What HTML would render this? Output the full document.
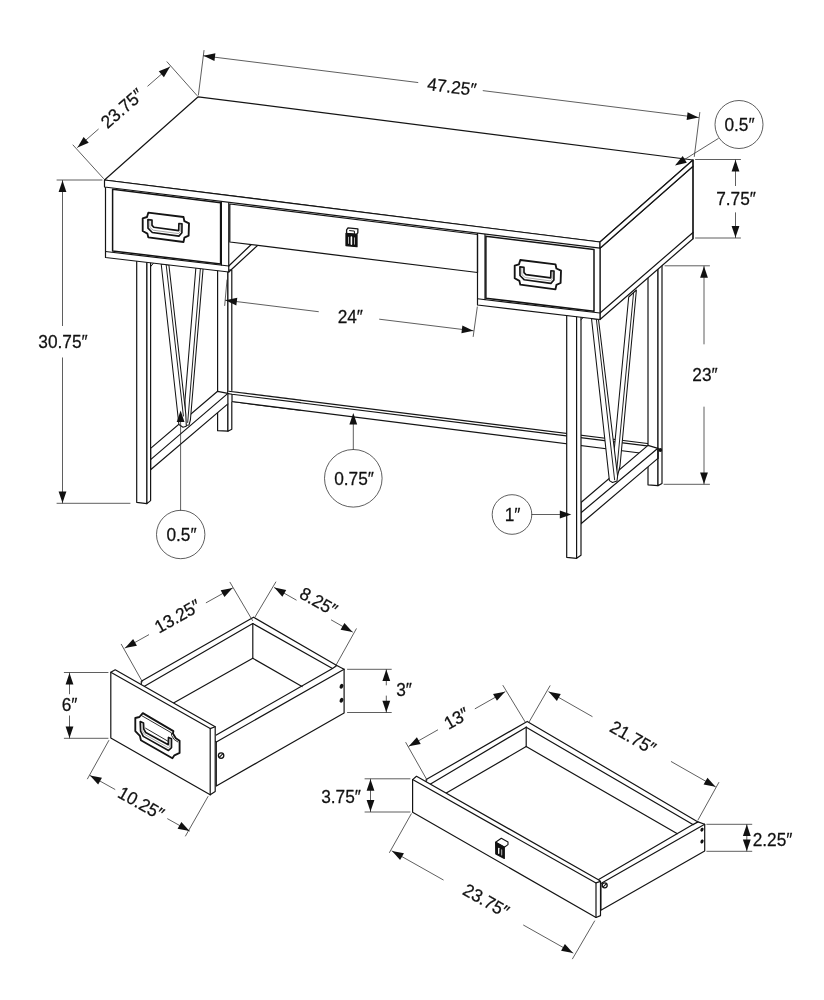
<!DOCTYPE html>
<html lang="en">
<head>
<meta charset="utf-8">
<title>Desk dimensions</title>
<style>
html,body{margin:0;padding:0;background:#fff;}
body{width:824px;height:1000px;overflow:hidden;}
svg{display:block;will-change:transform;}
svg text{font-family:"Liberation Sans",sans-serif;fill:#111;stroke:#111;stroke-width:0.25px;}
</style>
</head>
<body>
<svg width="824" height="1000" viewBox="0 0 824 1000" stroke-linejoin="round" stroke-linecap="round">
<rect x="0" y="0" width="824" height="1000" fill="#fff"/>
<polygon points="228.75,391.25 647.5,443.5 655,446.8 640,453 232,401.5 232,394.25" fill="#fff" stroke="#141414" stroke-width="1.2"/>
<polyline points="232,394.25 655,446.8" fill="none" stroke="#141414" stroke-width="1.2"/>
<polygon points="217.6,270 227.9,270 227.9,431.2 217.6,430.7" fill="#fff" stroke="#141414" stroke-width="1.2"/>
<polygon points="227.9,270 231.8,270 231.8,429.3 227.9,431.2" fill="#fff" stroke="#141414" stroke-width="1.2"/>
<polygon points="648,276 658,267 658,485.6 648,484.8" fill="#fff" stroke="#141414" stroke-width="1.2"/>
<polygon points="658,267 662,264 662,483.5 658,485.6" fill="#fff" stroke="#141414" stroke-width="1.2"/>
<polygon points="228.75,391.25 232,390.7 300,399.3 300,409.9 232,401.5 227.9,403.9 227.9,393.4" fill="#fff" stroke="none" stroke-width="0"/>
<polyline points="228.75,391.25 300,400.14" fill="none" stroke="#141414" stroke-width="1.2"/>
<polyline points="228.2,393.6 232,394.25 300,402.7" fill="none" stroke="#141414" stroke-width="1.2"/>
<polyline points="232,394.25 232,401.5 300,410.08" fill="none" stroke="#141414" stroke-width="1.2"/>
<polygon points="150.6,448.4 217.6,391.3 227.9,393.4 227.9,403.9 150.6,469.7" fill="#fff" stroke="#141414" stroke-width="1.2"/>
<polyline points="150.6,459.6 227.9,393.4" fill="none" stroke="#141414" stroke-width="1.2"/>
<polygon points="581,502.5 648,445.4 657.9,448.3 657.9,458.4 581,523.8" fill="#fff" stroke="#141414" stroke-width="1.2"/>
<polyline points="581,512.7 657.9,448.3" fill="none" stroke="#141414" stroke-width="1.2"/>
<polyline points="657.9,448.3 657.9,458.4" fill="none" stroke="#141414" stroke-width="1.2"/>
<circle cx="660.3" cy="450" r="1.9" fill="#111"/>
<polygon points="195.9,267.5 203.1,268.5 190.4,420 189,425 185.3,425.5 185,400" fill="#fff" stroke="#141414" stroke-width="1.05"/>
<polyline points="200.4,268.5 187.7,422.5" fill="none" stroke="#141414" stroke-width="0.95"/>
<polygon points="161.2,264 168.9,265 185.8,414 186.3,426.3 183,427.2 178.9,424.5" fill="#fff" stroke="#141414" stroke-width="1.05"/>
<polyline points="166.2,265 183.4,416" fill="none" stroke="#141414" stroke-width="0.95"/>
<polygon points="628.7,297 636.4,290 620,466 617,478 614,452" fill="#fff" stroke="#141414" stroke-width="1.05"/>
<polyline points="633.5,293.5 616.8,470" fill="none" stroke="#141414" stroke-width="0.95"/>
<polygon points="591.5,318.5 598.5,319.5 617.6,476 617,481 612.5,482.5 609.4,480.6" fill="#fff" stroke="#141414" stroke-width="1.05"/>
<polyline points="596.4,319.3 614.6,479.8" fill="none" stroke="#141414" stroke-width="0.95"/>
<polygon points="136.7,260 146.9,260 146.9,503.6 136.7,502.3" fill="#fff" stroke="#141414" stroke-width="1.2"/>
<polygon points="146.9,260 150.6,260 150.6,500.6 146.9,503.6" fill="#fff" stroke="#141414" stroke-width="1.2"/>
<polygon points="566.7,315 576.6,315 576.6,558.3 566.7,557.3" fill="#fff" stroke="#141414" stroke-width="1.2"/>
<polygon points="576.6,315 581,315 581,555.2 576.6,558.3" fill="#fff" stroke="#141414" stroke-width="1.2"/>
<polyline points="150.6,266.6 153.4,263.3" fill="none" stroke="#141414" stroke-width="1"/>
<polyline points="581,319.6 583.5,317.3" fill="none" stroke="#141414" stroke-width="1"/>
<polygon points="600,248.2 693,166.2 693,238.75 600,319.5" fill="#fff" stroke="#141414" stroke-width="1.2"/>
<polyline points="600,313 693,232.5" fill="none" stroke="#141414" stroke-width="1.2"/>
<polygon points="104.5,187 600,248.2 600,319.5 477.5,305 477.5,272.5 229,242 228.75,272 105.5,257.5 105.5,187.1" fill="#fff" stroke="none" stroke-width="0"/>
<polyline points="228.75,266 251,244.7" fill="none" stroke="#141414" stroke-width="1.2"/>
<polyline points="228.75,272 257.5,245.5" fill="none" stroke="#141414" stroke-width="1.2"/>
<polyline points="105.5,187.1 105.5,257.5 228.75,272 228.75,202.35" fill="none" stroke="#141414" stroke-width="1.2"/>
<polyline points="105.5,251.5 228.75,266" fill="none" stroke="#141414" stroke-width="1.2"/>
<polyline points="221.4,201.44 221.4,265.1" fill="none" stroke="#141414" stroke-width="1.2"/>
<polygon points="112.6,189.3 220.6,202.7 220.6,263.9 112.6,251" fill="#fff" stroke="#141414" stroke-width="1.5"/>
<polygon points="229.8,204 477.5,234.5 477.5,272.5 229.8,242" fill="#fff" stroke="#141414" stroke-width="1.25"/>
<polyline points="477.5,233.07 477.5,305 600,319.5 600,248.2" fill="none" stroke="#141414" stroke-width="1.2"/>
<polyline points="477.5,298.75 600,313" fill="none" stroke="#141414" stroke-width="1.2"/>
<polyline points="485,234 485,299.6" fill="none" stroke="#141414" stroke-width="1.2"/>
<polygon points="485.9,236.2 594,249.5 594,311.3 485.9,298.2" fill="#fff" stroke="#141414" stroke-width="1.5"/>
<polygon points="104.5,180 198.2,96.8 693,160 600,242" fill="#fff" stroke="#141414" stroke-width="1.2"/>
<polygon points="104.5,180 600,242 600,248.2 104.5,187" fill="#fff" stroke="#141414" stroke-width="1.2"/>
<polygon points="600,242 693,160 693,166.2 600,248.2" fill="#fff" stroke="#141414" stroke-width="1.2"/>
<polyline points="693,160 693,238.75" fill="none" stroke="#141414" stroke-width="1.2"/>
<polygon points="148.3,212.7 183.5,217 184.4,221.2 189,223.4 188.6,235.7 184.4,237.6 183.5,242 148.3,237.4 147.4,233.6 142.7,231 142.7,218.3 147,217" fill="#fff" stroke="#141414" stroke-width="1.85"/>
<polygon points="147.9,219.6 148,228.2 152.3,232.5 178.9,236.1 181.9,232.7 182,223.8 178.9,223.5 178.7,230.6 154,227.3 152,225.3 152,220.1" fill="#fff" stroke="#141414" stroke-width="1.65"/>
<polyline points="149.8,220.2 149.9,227.4 153.2,230.2 178.6,233.6 180.3,231.5 180.4,223.9" fill="none" stroke="#555" stroke-width="0.5"/>
<polygon points="520.3,260 555.5,264.3 556.4,268.5 561,270.7 560.6,283 556.4,284.9 555.5,289.3 520.3,284.7 519.4,280.9 514.7,278.3 514.7,265.6 519,264.3" fill="#fff" stroke="#141414" stroke-width="1.85"/>
<polygon points="519.9,266.9 520,275.5 524.3,279.8 550.9,283.4 553.9,280 554,271.1 550.9,270.8 550.7,277.9 526,274.6 524,272.6 524,267.4" fill="#fff" stroke="#141414" stroke-width="1.65"/>
<polyline points="521.8,267.5 521.9,274.7 525.2,277.5 550.6,280.9 552.3,278.8 552.4,271.2" fill="none" stroke="#555" stroke-width="0.5"/>
<polygon points="346.6,229.8 348,227.9 357.9,228.9 357.8,232.9 356.5,234.3 346.6,233.3" fill="#fff" stroke="#141414" stroke-width="1.3"/>
<polyline points="349.6,230.6 354.4,231.1 354.4,233.6" fill="none" stroke="#141414" stroke-width="1"/>
<polygon points="346,233.5 357,234.6 357,246.7 346,245.5" fill="#111" stroke="#141414" stroke-width="1.3"/>
<polyline points="348.5,237.2 348.5,243.4" fill="none" stroke="#ddd" stroke-width="0.8"/>
<polyline points="351.4,237 351.4,244.2" fill="none" stroke="#fff" stroke-width="1.6"/>
<polyline points="354.5,237.8 354.5,244.2" fill="none" stroke="#ddd" stroke-width="0.8"/>
<polyline points="204,50.5 198.4,95" fill="none" stroke="#2a2a2a" stroke-width="0.75"/>
<polyline points="699.8,112.5 694.3,156.5" fill="none" stroke="#2a2a2a" stroke-width="0.75"/>
<polyline points="203.5,55.8 417.84,82.52" fill="none" stroke="#2a2a2a" stroke-width="0.75"/>
<polyline points="483.17,90.66 698.5,117.5" fill="none" stroke="#2a2a2a" stroke-width="0.75"/>
<polygon points="203.5,55.8 215.39,53.35 214.43,61.09" fill="#111" stroke="none"/>
<polygon points="698.5,117.5 686.61,119.95 687.57,112.21" fill="#111" stroke="none"/>
<text transform="translate(451.2 93) rotate(7) scale(0.96 1)" text-anchor="middle" font-size="18">47.25″</text>
<polyline points="167,61.8 197,95.5" fill="none" stroke="#2a2a2a" stroke-width="0.75"/>
<polyline points="73,145 103.5,178.5" fill="none" stroke="#2a2a2a" stroke-width="0.75"/>
<polyline points="77.5,147.4 98.31,129.24" fill="none" stroke="#2a2a2a" stroke-width="0.75"/>
<polyline points="147.8,86.07 170,66.7" fill="none" stroke="#2a2a2a" stroke-width="0.75"/>
<polygon points="77.5,147.4 83.6,136.9 88.73,142.78" fill="#111" stroke="none"/>
<polygon points="170,66.7 163.9,77.2 158.77,71.32" fill="#111" stroke="none"/>
<text transform="translate(126.2 113) rotate(-41) scale(0.96 1)" text-anchor="middle" font-size="18">23.75″</text>
<polyline points="57,180 102,180" fill="none" stroke="#2a2a2a" stroke-width="0.75"/>
<polyline points="57,503.3 130,503.3" fill="none" stroke="#2a2a2a" stroke-width="0.75"/>
<polyline points="62.5,180.5 62.5,325.62" fill="none" stroke="#2a2a2a" stroke-width="0.75"/>
<polyline points="62.5,357.88 62.5,503" fill="none" stroke="#2a2a2a" stroke-width="0.75"/>
<polygon points="62.5,180.5 66.4,192 58.6,192" fill="#111" stroke="none"/>
<polygon points="62.5,503 58.6,491.5 66.4,491.5" fill="#111" stroke="none"/>
<text transform="translate(63 347.6) scale(0.96 1)" text-anchor="middle" font-size="18">30.75″</text>
<polyline points="695.5,159.5 740.5,159.5" fill="none" stroke="#2a2a2a" stroke-width="0.75"/>
<polyline points="695.5,238 740.5,238" fill="none" stroke="#2a2a2a" stroke-width="0.75"/>
<polyline points="735.5,160 735.5,185.61" fill="none" stroke="#2a2a2a" stroke-width="0.75"/>
<polyline points="735.5,212.77 735.5,237.6" fill="none" stroke="#2a2a2a" stroke-width="0.75"/>
<polygon points="735.5,160 739.4,171.5 731.6,171.5" fill="#111" stroke="none"/>
<polygon points="735.5,237.6 731.6,226.1 739.4,226.1" fill="#111" stroke="none"/>
<text transform="translate(736 205.3) scale(0.96 1)" text-anchor="middle" font-size="18">7.75″</text>
<polyline points="665,265.8 709.5,265.8" fill="none" stroke="#2a2a2a" stroke-width="0.75"/>
<polyline points="664,484.3 709.5,484.3" fill="none" stroke="#2a2a2a" stroke-width="0.75"/>
<polyline points="704,266.2 704,343.92" fill="none" stroke="#2a2a2a" stroke-width="0.75"/>
<polyline points="704,407.05 704,483.9" fill="none" stroke="#2a2a2a" stroke-width="0.75"/>
<polygon points="704,266.2 707.9,277.7 700.1,277.7" fill="#111" stroke="none"/>
<polygon points="704,483.9 700.1,472.4 707.9,472.4" fill="#111" stroke="none"/>
<text transform="translate(705 381.2) scale(0.96 1)" text-anchor="middle" font-size="18">23″</text>
<polyline points="477.3,307 473.2,336.5" fill="none" stroke="#2a2a2a" stroke-width="0.75"/>
<polyline points="227,280 224.7,305.5" fill="none" stroke="#2a2a2a" stroke-width="0.75"/>
<polyline points="225.4,300.2 318.36,311.68" fill="none" stroke="#2a2a2a" stroke-width="0.75"/>
<polyline points="379.59,319.23 473.3,330.8" fill="none" stroke="#2a2a2a" stroke-width="0.75"/>
<polygon points="225.4,300.2 237.29,297.74 236.34,305.48" fill="#111" stroke="none"/>
<polygon points="473.3,330.8 461.41,333.26 462.36,325.52" fill="#111" stroke="none"/>
<text transform="translate(350.3 322.7) scale(0.96 1)" text-anchor="middle" font-size="18">24″</text>
<circle cx="739" cy="124.5" r="24" fill="#fff" stroke="#2a2a2a" stroke-width="0.75" stroke-linecap="butt"/>
<text transform="translate(739.5 131) scale(0.96 1)" text-anchor="middle" font-size="18">0.5″</text>
<polyline points="718.3,138.5 676.5,164.5" fill="none" stroke="#2a2a2a" stroke-width="0.75"/>
<polygon points="675,165.5 682.69,156.11 686.82,162.72" fill="#111" stroke="none"/>
<circle cx="180.7" cy="534.5" r="24.2" fill="#fff" stroke="#2a2a2a" stroke-width="0.75" stroke-linecap="butt"/>
<text transform="translate(181.5 540.8) scale(0.96 1)" text-anchor="middle" font-size="18">0.5″</text>
<polyline points="180.6,510.3 180.6,415" fill="none" stroke="#2a2a2a" stroke-width="0.75"/>
<polygon points="180.6,410.5 184.5,422 176.7,422" fill="#111" stroke="none"/>
<circle cx="353.3" cy="478.3" r="28.8" fill="#fff" stroke="#2a2a2a" stroke-width="0.75" stroke-linecap="butt"/>
<text transform="translate(354 484.7) scale(0.96 1)" text-anchor="middle" font-size="18">0.75″</text>
<polyline points="353.3,449.5 353.3,418" fill="none" stroke="#2a2a2a" stroke-width="0.75"/>
<polygon points="353.3,413 357.2,424.5 349.4,424.5" fill="#111" stroke="none"/>
<circle cx="512" cy="514.5" r="19.8" fill="#fff" stroke="#2a2a2a" stroke-width="0.75" stroke-linecap="butt"/>
<text transform="translate(512.5 520.6) scale(0.96 1)" text-anchor="middle" font-size="18">1″</text>
<polyline points="531.8,514.5 566,514.5" fill="none" stroke="#2a2a2a" stroke-width="0.75"/>
<polygon points="571.3,514.5 559.8,518.4 559.8,510.6" fill="#111" stroke="none"/>
<polygon points="141.3,687 141.3,681.2 253.5,617.2 336.8,665.5 344.1,669.2 344.1,712.9 216.3,786 216.3,742" fill="#fff" stroke="#141414" stroke-width="1.2"/>
<polyline points="141,688.3 252.8,623.6" fill="none" stroke="#141414" stroke-width="1.2"/>
<polyline points="252.8,623.6 332.5,668.4" fill="none" stroke="#141414" stroke-width="1.2"/>
<polyline points="252.8,623.6 252.8,658.3" fill="none" stroke="#141414" stroke-width="1.2"/>
<polyline points="252.8,658.3 170,705" fill="none" stroke="#141414" stroke-width="1.2"/>
<polyline points="252.8,658.3 302,686.6" fill="none" stroke="#141414" stroke-width="1.2"/>
<polyline points="216.3,735 332.5,668.4 336.8,665.5" fill="none" stroke="#141414" stroke-width="1.2"/>
<polyline points="216.3,742 344.1,669.2" fill="none" stroke="#141414" stroke-width="1.2"/>
<ellipse cx="341.5" cy="686.2" rx="1.8" ry="2.5" fill="#111" transform="rotate(25 341.5 686.2)"/>
<ellipse cx="341.5" cy="700.2" rx="1.8" ry="2.5" fill="#111" transform="rotate(25 341.5 700.2)"/>
<circle cx="221.1" cy="755.6" r="2.7" fill="#fff" stroke="#111" stroke-width="1.3"/>
<polyline points="219.48,757.22 222.72,753.98" fill="none" stroke="#141414" stroke-width="1.1"/>
<polygon points="115.2,669.8 215.2,726.8 215.2,791.5 210.2,794.8 110.8,738 110.8,672.3" fill="#fff" stroke="#141414" stroke-width="1.2"/>
<polyline points="110.8,672.3 210.2,728.6 210.2,794.8" fill="none" stroke="#141414" stroke-width="1.2"/>
<polyline points="210.2,728.6 215.2,726.8" fill="none" stroke="#141414" stroke-width="1.2"/>
<polygon points="142.8,713.1 173.4,731.1 172.9,733.5 175.8,738.3 179.6,740.8 179.6,752.9 174.4,755.3 172.4,758.3 140.9,740.3 139.9,735.9 135.3,731.1 135.3,718 139.4,717" fill="#fff" stroke="#141414" stroke-width="1.85"/>
<polyline points="141.6,715.6 171.4,732.8 171.6,735.5 174.3,739.6 177.8,741.9" fill="none" stroke="#141414" stroke-width="0.9"/>
<polygon points="140.2,721.6 140.6,731.1 143.3,736.4 168.5,750.5 171.5,747.6 171.5,738.8 168.5,737.4 168.3,744.7 145.7,732.5 143.8,729.1 143.5,723.1" fill="#fff" stroke="#141414" stroke-width="1.65"/>
<polyline points="145.6,728.2 168.3,741.4" fill="none" stroke="#141414" stroke-width="0.9"/>
<polyline points="142,723.5 142.2,730.5 144.6,734.4 168.3,747.8 169.9,746.6 169.9,739.2" fill="none" stroke="#555" stroke-width="0.5"/>
<polyline points="64.3,672.5 108,672.5" fill="none" stroke="#2a2a2a" stroke-width="0.75"/>
<polyline points="64.3,738.3 108,738.3" fill="none" stroke="#2a2a2a" stroke-width="0.75"/>
<polyline points="69.5,673 69.5,693.8" fill="none" stroke="#2a2a2a" stroke-width="0.75"/>
<polyline points="69.5,715.9 69.5,738" fill="none" stroke="#2a2a2a" stroke-width="0.75"/>
<polygon points="69.5,673 73.4,684.5 65.6,684.5" fill="#111" stroke="none"/>
<polygon points="69.5,738 65.6,726.5 73.4,726.5" fill="#111" stroke="none"/>
<text transform="translate(69.5 711.3) scale(0.96 1)" text-anchor="middle" font-size="18">6″</text>
<polyline points="121.3,644.3 142.5,682" fill="none" stroke="#2a2a2a" stroke-width="0.75"/>
<polyline points="230,582.3 252.5,620.5" fill="none" stroke="#2a2a2a" stroke-width="0.75"/>
<polyline points="125,648 148.67,634.8" fill="none" stroke="#2a2a2a" stroke-width="0.75"/>
<polyline points="206.24,602.7 232.6,588" fill="none" stroke="#2a2a2a" stroke-width="0.75"/>
<polygon points="125,648 133.14,638.99 136.94,645.81" fill="#111" stroke="none"/>
<polygon points="232.6,588 224.46,597.01 220.66,590.19" fill="#111" stroke="none"/>
<text transform="translate(180.5 621.6) rotate(-29.5) scale(0.96 1)" text-anchor="middle" font-size="18">13.25″</text>
<polyline points="275.8,582 255,617" fill="none" stroke="#2a2a2a" stroke-width="0.75"/>
<polyline points="356.3,628.8 335,667" fill="none" stroke="#2a2a2a" stroke-width="0.75"/>
<polyline points="274.3,587.6 296.2,600.03" fill="none" stroke="#2a2a2a" stroke-width="0.75"/>
<polyline points="331.39,620.01 352.5,632" fill="none" stroke="#2a2a2a" stroke-width="0.75"/>
<polygon points="274.3,587.6 286.23,589.89 282.37,596.67" fill="#111" stroke="none"/>
<polygon points="352.5,632 340.57,629.71 344.43,622.93" fill="#111" stroke="none"/>
<text transform="translate(315.5 607) rotate(29.5) scale(0.96 1)" text-anchor="middle" font-size="18">8.25″</text>
<polyline points="108.8,740.5 87.5,778.8" fill="none" stroke="#2a2a2a" stroke-width="0.75"/>
<polyline points="208,796.5 185.5,836" fill="none" stroke="#2a2a2a" stroke-width="0.75"/>
<polyline points="90,775.5 114.88,789.38" fill="none" stroke="#2a2a2a" stroke-width="0.75"/>
<polyline points="167.61,818.79 189.5,831" fill="none" stroke="#2a2a2a" stroke-width="0.75"/>
<polygon points="90,775.5 101.94,777.7 98.14,784.51" fill="#111" stroke="none"/>
<polygon points="189.5,831 177.56,828.8 181.36,821.99" fill="#111" stroke="none"/>
<text transform="translate(138 808.6) rotate(29.5) scale(0.96 1)" text-anchor="middle" font-size="18">10.25″</text>
<polyline points="347.5,669.3 391.3,669.3" fill="none" stroke="#2a2a2a" stroke-width="0.75"/>
<polyline points="347.5,712.5 391.3,712.5" fill="none" stroke="#2a2a2a" stroke-width="0.75"/>
<polyline points="386.3,669.6 386.3,684.94" fill="none" stroke="#2a2a2a" stroke-width="0.75"/>
<polyline points="386.3,696.01 386.3,712.2" fill="none" stroke="#2a2a2a" stroke-width="0.75"/>
<polygon points="386.3,669.6 390.2,681.1 382.4,681.1" fill="#111" stroke="none"/>
<polygon points="386.3,712.2 382.4,700.7 390.2,700.7" fill="#111" stroke="none"/>
<text transform="translate(404 696.2) scale(0.96 1)" text-anchor="middle" font-size="18">3″</text>
<polygon points="426.2,785 426.2,779.6 527.2,721.4 698,821.9 704.7,824.2 704.7,851 600.9,910.2 600.9,883.4" fill="#fff" stroke="#141414" stroke-width="1.2"/>
<polyline points="428,785.5 526.2,727.2" fill="none" stroke="#141414" stroke-width="1.2"/>
<polyline points="526.2,727.2 526.2,746.6" fill="none" stroke="#141414" stroke-width="1.2"/>
<polyline points="442,795.5 526.2,746.6" fill="none" stroke="#141414" stroke-width="1.2"/>
<polyline points="526.2,727.2 692.9,824.6" fill="none" stroke="#141414" stroke-width="1.2"/>
<polyline points="526.2,746.6 677.4,833.7" fill="none" stroke="#141414" stroke-width="1.2"/>
<polyline points="598.2,879.8 692.9,824.6 698,821.9" fill="none" stroke="#141414" stroke-width="1.2"/>
<polyline points="600.9,883.4 704.7,824.2" fill="none" stroke="#141414" stroke-width="1.2"/>
<ellipse cx="702" cy="829.7" rx="1.5" ry="2.1" fill="#111" transform="rotate(25 702 829.7)"/>
<ellipse cx="702" cy="841.5" rx="1.5" ry="2.1" fill="#111" transform="rotate(25 702 841.5)"/>
<circle cx="604.7" cy="885.3" r="2.5" fill="#fff" stroke="#111" stroke-width="1.3"/>
<polyline points="603.2,886.8 606.2,883.8" fill="none" stroke="#141414" stroke-width="1.1"/>
<polygon points="416.5,776.3 598.4,879.7 600.5,881.4 600.5,915.6 596,917.5 412.6,812.2 412.6,779.6" fill="#fff" stroke="#141414" stroke-width="1.2"/>
<polyline points="412.6,779.6 596,882.9 596,917.5" fill="none" stroke="#141414" stroke-width="1.2"/>
<polyline points="596,882.9 600.5,881.4" fill="none" stroke="#141414" stroke-width="1.2"/>
<polygon points="495.6,842.2 501.3,838.2 508,842 508,844.6 504.3,847.2" fill="#fff" stroke="#141414" stroke-width="1.1"/>
<polygon points="495.6,842.4 504.3,847 504.3,858.4 495.8,853.9" fill="#111" stroke="#141414" stroke-width="1.2"/>
<polyline points="498.7,848.3 498.7,853.3" fill="none" stroke="#fff" stroke-width="1.3"/>
<polyline points="501.6,849.9 501.6,854.9" fill="none" stroke="#999" stroke-width="1.3"/>
<polyline points="365,778.8 410,778.8" fill="none" stroke="#2a2a2a" stroke-width="0.75"/>
<polyline points="365,812 410,812" fill="none" stroke="#2a2a2a" stroke-width="0.75"/>
<polyline points="370.5,779.2 370.5,811.6" fill="none" stroke="#2a2a2a" stroke-width="0.75"/>
<polygon points="370.5,779.2 374.4,790.7 366.6,790.7" fill="#111" stroke="none"/>
<polygon points="370.5,811.6 366.6,800.1 374.4,800.1" fill="#111" stroke="none"/>
<text transform="translate(341 802.6) scale(0.96 1)" text-anchor="middle" font-size="18">3.75″</text>
<polyline points="405.8,742.5 427,780" fill="none" stroke="#2a2a2a" stroke-width="0.75"/>
<polyline points="503,685.5 525.5,722.5" fill="none" stroke="#2a2a2a" stroke-width="0.75"/>
<polyline points="408.8,746.3 437.66,729.95" fill="none" stroke="#2a2a2a" stroke-width="0.75"/>
<polyline points="475.18,708.69 505,691.8" fill="none" stroke="#2a2a2a" stroke-width="0.75"/>
<polygon points="408.8,746.3 416.88,737.24 420.73,744.02" fill="#111" stroke="none"/>
<polygon points="505,691.8 496.92,700.86 493.07,694.08" fill="#111" stroke="none"/>
<text transform="translate(459.5 723.8) rotate(-29.5) scale(0.96 1)" text-anchor="middle" font-size="18">13″</text>
<polyline points="550,685.8 528.8,722.5" fill="none" stroke="#2a2a2a" stroke-width="0.75"/>
<polyline points="718.8,782.5 698,820" fill="none" stroke="#2a2a2a" stroke-width="0.75"/>
<polyline points="548.8,691.8 592.14,716.5" fill="none" stroke="#2a2a2a" stroke-width="0.75"/>
<polyline points="671.32,761.62 715.5,786.8" fill="none" stroke="#2a2a2a" stroke-width="0.75"/>
<polygon points="548.8,691.8 560.72,694.11 556.86,700.88" fill="#111" stroke="none"/>
<polygon points="715.5,786.8 703.58,784.49 707.44,777.72" fill="#111" stroke="none"/>
<text transform="translate(630 743) rotate(29.7) scale(0.96 1)" text-anchor="middle" font-size="18">21.75″</text>
<polyline points="411.3,813.8 389.5,852.5" fill="none" stroke="#2a2a2a" stroke-width="0.75"/>
<polyline points="594.6,921 572.5,958.8" fill="none" stroke="#2a2a2a" stroke-width="0.75"/>
<polyline points="392,851 443.22,879.87" fill="none" stroke="#2a2a2a" stroke-width="0.75"/>
<polyline points="523.59,925.15 573,953" fill="none" stroke="#2a2a2a" stroke-width="0.75"/>
<polygon points="392,851 403.93,853.25 400.1,860.04" fill="#111" stroke="none"/>
<polygon points="573,953 561.07,950.75 564.9,943.96" fill="#111" stroke="none"/>
<text transform="translate(483 906) rotate(29.5) scale(0.96 1)" text-anchor="middle" font-size="18">23.75″</text>
<polyline points="706.8,824.3 751.8,824.3" fill="none" stroke="#2a2a2a" stroke-width="0.75"/>
<polyline points="706.8,851.3 751.8,851.3" fill="none" stroke="#2a2a2a" stroke-width="0.75"/>
<polyline points="746.8,824.6 746.8,851" fill="none" stroke="#2a2a2a" stroke-width="0.75"/>
<polygon points="746.8,824.6 750.7,836.1 742.9,836.1" fill="#111" stroke="none"/>
<polygon points="746.8,851 742.9,839.5 750.7,839.5" fill="#111" stroke="none"/>
<text transform="translate(772.5 845.6) scale(0.96 1)" text-anchor="middle" font-size="18">2.25″</text>
</svg>
</body>
</html>
